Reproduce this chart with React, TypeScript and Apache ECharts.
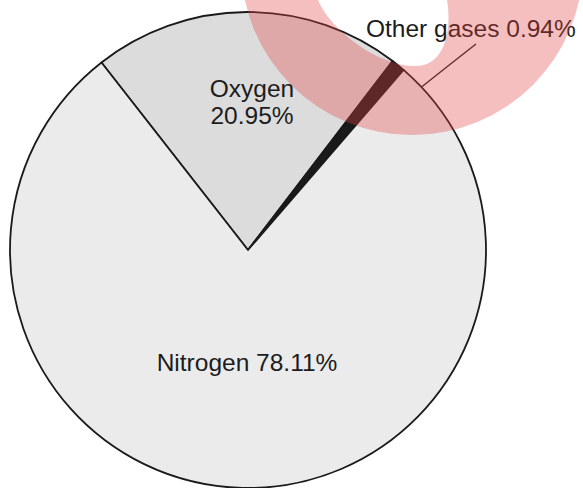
import React, { useEffect, useRef } from "react";
import * as echarts from "echarts";

const categories = ["Oxygen", "Other gases", "Nitrogen"];
const values = [20.95, 0.94, 78.11];
const sliceColors = ["#dcdcdc", "#1a1a1a", "#ebebeb"];
const labelFormats = ["{b}\n{c}%", "{b} {c}%", "{b} {c}%"];

const MARK_D =
  "M 241 -36 A 171 171 0 1 0 583 -36 A 171 171 0 1 0 241 -36 Z " +
  "M 318 0 L 318 -60 L 447 -60 L 447 0 C 452 30 445 64 418 66 C 380 68 330 30 318 0 Z";

let registered = false;

export default function App() {
  const ref = useRef<HTMLDivElement>(null);
  useEffect(() => {
    if (!registered) {
      echarts.graphic.registerShape("mark", echarts.graphic.extendPath(MARK_D, {}) as any);
      registered = true;
    }
    const chart = echarts.init(ref.current!, null, { renderer: "svg" });
    const font = "'Liberation Sans', Arial, Helvetica, sans-serif";
    chart.setOption({
      animation: false,
      backgroundColor: "#ffffff",
      series: [
        {
          type: "pie",
          center: [248, 250],
          radius: 238,
          startAngle: 128,
          clockwise: true,
          avoidLabelOverlap: false,
          itemStyle: { borderColor: "#1a1a1a", borderWidth: 1.8 },
          emphasis: { disabled: true },
          label: {
            show: true,
            position: "inside",
            color: "#1c1c1c",
            fontFamily: font,
            fontSize: 24.5,
            lineHeight: 27,
          },
          labelLine: { show: false },
          labelLayout: (params: any) => {
            const i = params.dataIndex;
            if (i === 0) return { x: 252, y: 102, align: "center", verticalAlign: "middle" };
            if (i === 2) return { x: 247, y: 362, align: "center", verticalAlign: "middle" };
            return {
              x: 366,
              y: 28,
              align: "left",
              verticalAlign: "middle",
              labelLinePoints: [
                [419, 89],
                [448, 66],
                [476, 44],
              ],
            };
          },
          data: categories.map((name, i) => ({
            name,
            value: values[i],
            itemStyle: { color: sliceColors[i] },
            label: { formatter: labelFormats[i], position: i === 1 ? "outside" : "inside" },
            labelLine:
              i === 1
                ? { show: true, length: 10, length2: 10, lineStyle: { color: "#222", width: 1.4 } }
                : { show: false },
          })),
        },
      ],
      graphic: [
        {
          type: "mark",
          x: 0,
          y: 0,
          silent: true,
          z: 1000,
          zlevel: 0,
          style: { fill: "rgba(228, 66, 66, 0.34)", stroke: "none" },
        },
      ],
    });
    return () => chart.dispose();
  }, []);
  return (
    <div
      ref={ref}
      style={{ position: "absolute", left: 0, top: 0, width: 583, height: 488 }}
    />
  );
}
